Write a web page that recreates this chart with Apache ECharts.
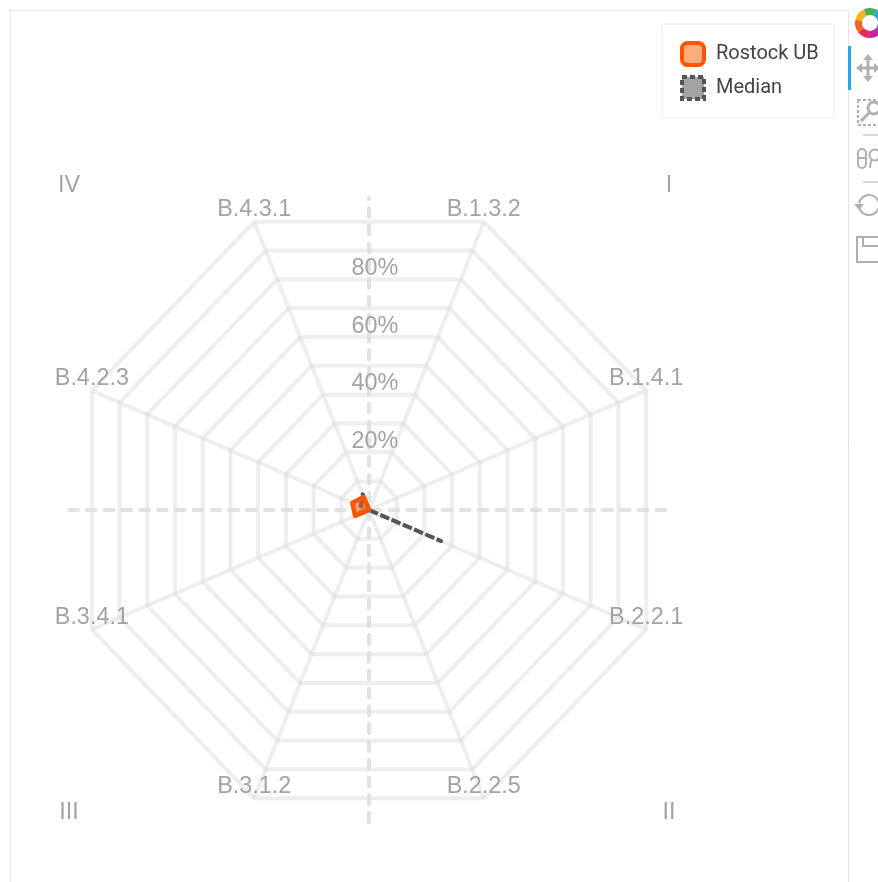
<!DOCTYPE html>
<html lang="en">
<head>
    <meta charset="UTF-8">
    <title>Radar</title>
    <script src="https://cdnjs.cloudflare.com/ajax/libs/echarts/6.0.0/echarts.min.js"></script>
    <style>
        html, body { margin: 0; padding: 0; background: #fff; overflow: hidden; }
        #chart { width: 878px; height: 882px; }
    </style>
</head>
<body>
    <div id="chart"></div>
    <script>
        // Data
        var categories = ['B.1.3.2', 'B.1.4.1', 'B.2.2.1', 'B.2.2.5', 'B.3.1.2', 'B.3.4.1', 'B.4.2.3', 'B.4.3.1'];
        var rostockValues = [0, 0, 0, 0, 0, 5, 6, 4.5];
        var medianValues = [0, 0, 26, 0, 0, 3, 3, 5.5];
        var ringLevels = [10, 20, 30, 40, 50, 60, 70, 80, 90, 100];
        var tickLabels = ['20%', '40%', '60%', '80%'];
        var tickLevels = [20, 40, 60, 80];
        var quadrants = ['I', 'II', 'III', 'IV'];
        var quadrantX = [100, 100, -100, -100];
        var quadrantY = [104, -97, -97, 104];

        var chart = echarts.init(document.getElementById('chart'));
        var labelFont = '23.4px "Liberation Sans"';
        var labelColor = '#a3a3a3';
        var ringColor = 'rgba(222,222,222,0.5)';
        var toolColor = '#b0b0b0';

        // value on spoke i -> x/y in axis units
        function toXY(value, i) {
            var a = (22.5 + 45 * i) * Math.PI / 180;
            return [value * Math.sin(a), value * Math.cos(a)];
        }

        function polygonSeries(name, values, stroke, fill, width, dash, z) {
            return {
                name: name,
                type: 'custom',
                coordinateSystem: 'cartesian2d',
                silent: true,
                z: z,
                data: [0],
                renderItem: function (params, api) {
                    return {
                        type: 'polygon',
                        shape: { points: values.map(function (v, i) { return api.coord(toXY(v, i)); }) },
                        style: { fill: fill, stroke: stroke, lineWidth: width, lineDash: dash, lineJoin: 'round' }
                    };
                }
            };
        }

        // toolbar on the right edge, plain shapes
        function toolLine(points, width) {
            return { type: 'polyline', shape: { points: points }, style: { fill: 'none', stroke: toolColor, lineWidth: width || 2 }, silent: true };
        }
        function toolArrow(points) {
            return { type: 'polygon', shape: { points: points }, style: { fill: toolColor }, silent: true };
        }
        var logoColors = ['#4caf50', '#26aae1', '#5b5fc7', '#c2259e', '#e8265e', '#f26522', '#f7b11b'];
        var toolbar = logoColors.map(function (c, i) {
            return {
                type: 'sector',
                shape: { cx: 870, cy: 23, r: 15, r0: 8, startAngle: (i * 360 / 7 - 115) * Math.PI / 180, endAngle: ((i + 1) * 360 / 7 - 115) * Math.PI / 180 },
                style: { fill: c }, silent: true
            };
        }).concat([
            { type: 'rect', shape: { x: 848, y: 46, width: 3, height: 44 }, style: { fill: '#26aae1' }, silent: true },
            // move
            toolLine([[859, 68], [877, 68]], 3),
            toolLine([[868, 59], [868, 77]], 3),
            toolArrow([[868, 54], [863, 60], [873, 60]]),
            toolArrow([[868, 82], [863, 76], [873, 76]]),
            toolArrow([[856, 68], [862, 63], [862, 73]]),
            toolArrow([[880, 68], [874, 63], [874, 73]]),
            // box zoom
            { type: 'rect', shape: { x: 858, y: 100, width: 24, height: 25 }, style: { fill: 'none', stroke: toolColor, lineWidth: 2, lineDash: [3, 2] }, silent: true },
            { type: 'circle', shape: { cx: 874, cy: 108, r: 6 }, style: { fill: '#fff', stroke: toolColor, lineWidth: 3 }, silent: true },
            toolLine([[869, 113], [861, 121]], 3),
            toolLine([[863, 135], [878, 135]], 1),
            // wheel zoom
            { type: 'rect', shape: { x: 858, y: 149, width: 8, height: 19, r: 4 }, style: { fill: 'none', stroke: toolColor, lineWidth: 2 }, silent: true },
            toolLine([[858, 158], [866, 158]], 2),
            { type: 'circle', shape: { cx: 875, cy: 155, r: 5.5 }, style: { fill: 'none', stroke: toolColor, lineWidth: 2 }, silent: true },
            toolLine([[871, 160], [870, 168]], 2),
            toolLine([[863, 182], [878, 182]], 1),
            // reset
            { type: 'arc', shape: { cx: 869, cy: 205, r: 10, startAngle: Math.PI * 1.05, endAngle: Math.PI * 1.9 }, style: { fill: 'none', stroke: toolColor, lineWidth: 2 }, silent: true },
            { type: 'arc', shape: { cx: 869, cy: 205, r: 10, startAngle: Math.PI * 0.1, endAngle: Math.PI * 0.9 }, style: { fill: 'none', stroke: toolColor, lineWidth: 2 }, silent: true },
            toolArrow([[854, 204], [864, 204], [859, 210]]),
            // save
            { type: 'rect', shape: { x: 857, y: 237, width: 30, height: 25 }, style: { fill: 'none', stroke: toolColor, lineWidth: 2 }, silent: true },
            { type: 'rect', shape: { x: 863, y: 237, width: 20, height: 9 }, style: { fill: 'none', stroke: toolColor, lineWidth: 2 }, silent: true }
        ]);

        var option = {
            animation: false,
            grid: { left: 69, width: 600, top: 198, height: 624 },
            xAxis: {
                type: 'value', min: -100, max: 100,
                axisLine: { onZero: true, lineStyle: { color: '#e2e2e2', width: 4, type: [8.9, 8.9] } },
                axisTick: { show: false }, axisLabel: { show: false }, splitLine: { show: false }
            },
            yAxis: {
                type: 'value', min: -100, max: 100,
                axisLine: { onZero: true, lineStyle: { color: '#e2e2e2', width: 4, type: [8.9, 8.9] } },
                axisTick: { show: false }, axisLabel: { show: false }, splitLine: { show: false }
            },
            legend: {
                left: 662, top: 24, orient: 'vertical', align: 'left',
                padding: [17, 15, 17, 18],
                itemWidth: 22, itemHeight: 22, itemGap: 8,
                backgroundColor: '#fff', borderColor: '#eeeeee', borderWidth: 1,
                textStyle: { fontFamily: 'Roboto', fontSize: 20, color: '#444444', padding: [0, 0, 0, 7] },
                data: [
                    { name: 'Rostock UB', icon: 'roundRect', itemStyle: { color: 'rgba(255,85,0,0.5)', borderColor: '#ff5500', borderWidth: 4 } },
                    { name: 'Median', icon: 'rect', itemStyle: { color: '#a3a3a3', borderColor: '#555555', borderWidth: 4, borderType: [5, 3] } }
                ]
            },
            graphic: [
                { type: 'rect', shape: { x: 10.5, y: 10.5, width: 838, height: 900 }, style: { fill: 'none', stroke: '#e6e6e6', lineWidth: 1 }, silent: true }
            ].concat(toolbar),
            series: [
                {
                    type: 'custom', coordinateSystem: 'cartesian2d', silent: true, z: 1,
                    data: ringLevels,
                    renderItem: function (params, api) {
                        var level = api.value(0);
                        return {
                            type: 'polygon',
                            shape: { points: categories.map(function (c, i) { return api.coord(toXY(level, i)); }) },
                            style: { fill: 'none', stroke: ringColor, lineWidth: 4 }
                        };
                    }
                },
                {
                    type: 'custom', coordinateSystem: 'cartesian2d', silent: true, z: 1,
                    data: categories,
                    renderItem: function (params, api) {
                        var a = api.coord([0, 0]);
                        var b = api.coord(toXY(100, params.dataIndex));
                        return {
                            type: 'line',
                            shape: { x1: a[0], y1: a[1], x2: b[0], y2: b[1] },
                            style: { stroke: ringColor, lineWidth: 4 }
                        };
                    }
                },
                // dash length picked so the way out and the way back along the spike line up
                polygonSeries('Median', medianValues, '#555555', 'rgba(128,128,128,0.5)', 4, [9.2, 3.07], 3),
                polygonSeries('Rostock UB', rostockValues, '#ff5500', 'rgba(255,85,0,0.5)', 4.5, null, 4),
                {
                    type: 'custom', coordinateSystem: 'cartesian2d', silent: true, z: 5,
                    data: categories,
                    renderItem: function (params, api) {
                        var p = api.coord(toXY(100, params.dataIndex));
                        return {
                            type: 'text',
                            x: p[0], y: p[1] - 12,
                            style: { text: categories[params.dataIndex], font: labelFont, fill: labelColor, align: 'center', verticalAlign: 'middle' }
                        };
                    }
                },
                {
                    type: 'custom', coordinateSystem: 'cartesian2d', silent: true, z: 5,
                    data: tickLevels,
                    renderItem: function (params, api) {
                        var p = api.coord(toXY(api.value(0), 0));
                        return {
                            type: 'text',
                            x: api.coord([0, 0])[0] + 6, y: p[1] - 11,
                            style: { text: tickLabels[params.dataIndex], font: labelFont, fill: labelColor, align: 'center', verticalAlign: 'middle' }
                        };
                    }
                },
                {
                    type: 'custom', coordinateSystem: 'cartesian2d', silent: true, z: 5,
                    data: quadrants,
                    renderItem: function (params, api) {
                        var p = api.coord([quadrantX[params.dataIndex], quadrantY[params.dataIndex]]);
                        return {
                            type: 'text',
                            x: p[0], y: p[1],
                            style: { text: quadrants[params.dataIndex], font: labelFont, fill: labelColor, align: 'center', verticalAlign: 'middle' }
                        };
                    }
                }
            ]
        };

        chart.setOption(option);
    </script>
</body>
</html>
